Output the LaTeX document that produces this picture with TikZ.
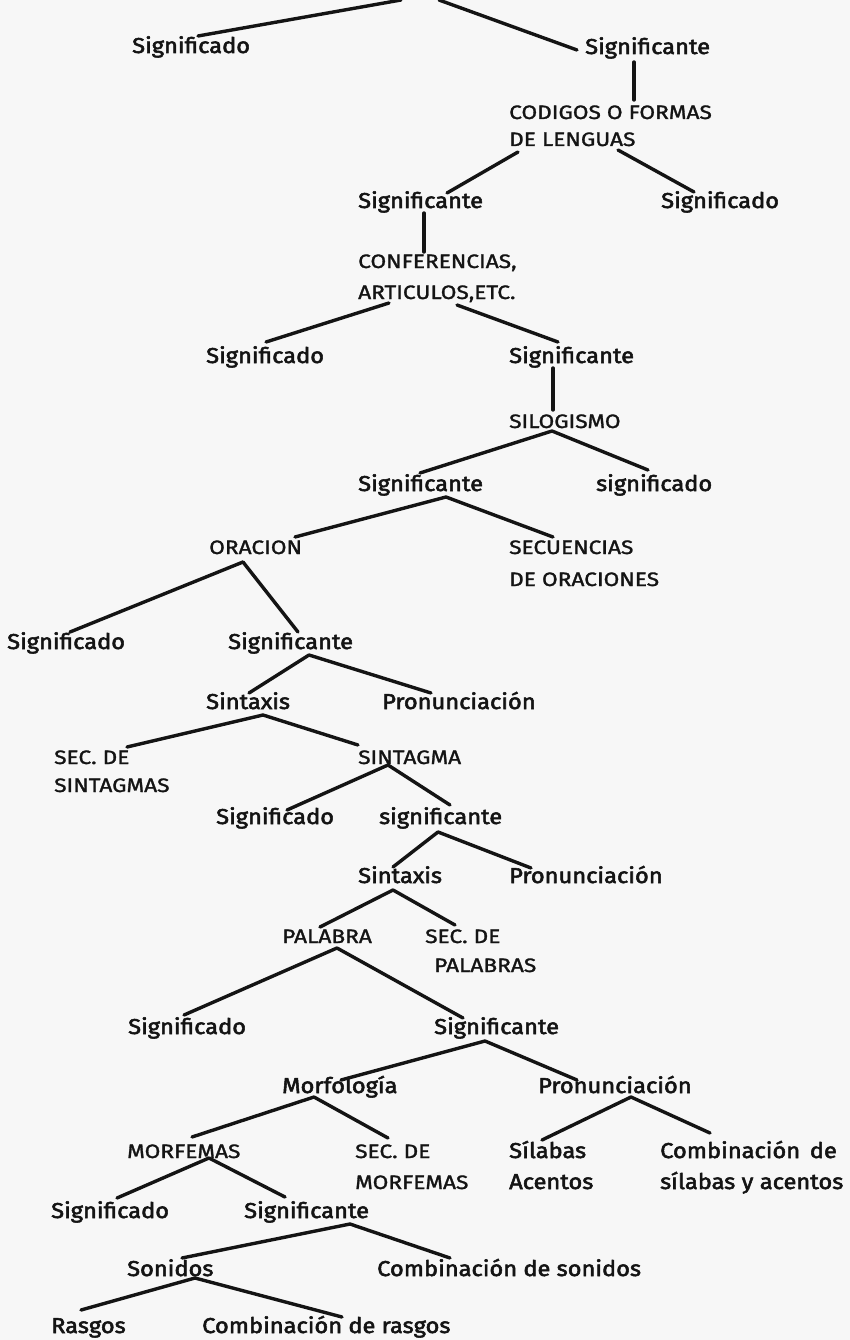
\documentclass[tikz,border=0pt]{standalone}
\usepackage{fontspec}
\setmainfont{Fira Sans}
\newfontfamily\wordfont{Fira Sans}[FakeStretch=1.1,FakeBold=2.5]
\newfontfamily\capsfont{Fira Sans}[FakeStretch=1.17,FakeBold=1.5]
\definecolor{ink}{HTML}{141414}
\definecolor{paper}{HTML}{F7F7F7}
\begin{document}
\begin{tikzpicture}[x=1pt,y=-1pt,
  lbl/.style={anchor=base west, inner sep=0pt, text=ink,
    font=\wordfont\fontsize{21.5}{24}\selectfont},
  caps/.style={lbl, font=\capsfont\fontsize{19.4}{22}\selectfont},
  conn/.style={draw=ink, line width=3.4pt, line cap=round}]
\fill[paper] (0,0) rectangle (850,1340);
\useasboundingbox (0,0) rectangle (850,1340);

% upper free ends of the first two branches
\coordinate (topL) at (401,0);
\coordinate (topR) at (439,0);

% labels, placed by their baseline start
\node[lbl]  (sdo1) at (132,53)  {Significado};
\node[lbl]  (ste1) at (585,54)  {Significante};
\node[caps] (cod)  at (509,119) {CODIGOS O FORMAS};
\node[caps] (cod2) at (509,146) {DE LENGUAS};
\node[lbl]  (ste2) at (358,208) {Significante};
\node[lbl]  (sdo2) at (661,208) {Significado};
\node[caps] (conf) at (358,268) {CONFERENCIAS,};
\node[caps] (conf2) at (358,299) {ARTICULOS,ETC.};
\node[lbl]  (sdo3) at (206,363) {Significado};
\node[lbl]  (ste3) at (509,363) {Significante};
\node[caps] (silo) at (509,428) {SILOGISMO};
\node[lbl]  (ste4) at (358,491) {Significante};
\node[lbl]  (sdo4) at (596,491) {significado};
\node[caps] (orac) at (209,554) {ORACION};
\node[caps] (secu) at (509,554) {SECUENCIAS};
\node[caps] (secu2) at (509,586) {DE ORACIONES};
\node[lbl]  (sdo5) at (7,649)   {Significado};
\node[lbl]  (ste5) at (228,649) {Significante};
\node[lbl]  (sin1) at (206,709) {Sintaxis};
\node[lbl]  (pro1) at (382,709) {Pronunciación};
\node[caps] (ssin) at (54,764)  {SEC. DE};
\node[caps] (ssin2) at (54,792) {SINTAGMAS};
\node[caps] (stg)  at (358,764) {SINTAGMA};
\node[lbl]  (sdo6) at (216,824) {Significado};
\node[lbl]  (ste6) at (379,824) {significante};
\node[lbl]  (sin2) at (358,883) {Sintaxis};
\node[lbl]  (pro2) at (509,883) {Pronunciación};
\node[caps] (pal)  at (282,943) {PALABRA};
\node[caps] (spal) at (425,943) {SEC. DE};
\node[caps] (spal2) at (434,972) {PALABRAS};
\node[lbl]  (sdo7) at (128,1034) {Significado};
\node[lbl]  (ste7) at (434,1034) {Significante};
\node[lbl]  (mor)  at (282,1093) {Morfología};
\node[lbl]  (pro3) at (538,1093) {Pronunciación};
\node[caps] (mfm)  at (127,1158) {MORFEMAS};
\node[caps] (smf)  at (355,1158) {SEC. DE};
\node[caps] (smf2) at (355,1189) {MORFEMAS};
\node[lbl]  (sil)  at (509,1158) {Sílabas};
\node[lbl]  (acen) at (509,1189) {Acentos};
\node[lbl]  (comb) at (660,1158) {Combinación\hspace{0.45em}de};
\node[lbl]  (comb2) at (660,1189) {sílabas\hspace{0.3em}y\hspace{0.3em}acentos};
\node[lbl]  (sdo8) at (51,1218)  {Significado};
\node[lbl]  (ste8) at (244,1218) {Significante};
\node[lbl]  (son)  at (127,1276) {Sonidos};
\node[lbl]  (cson) at (377,1276) {Combinación de sonidos};
\node[lbl]  (ras)  at (51,1333)  {Rasgos};
\node[lbl]  (cras) at (202,1333) {Combinación de rasgos};

% branches: parent point -> child point, offsets from each label's baseline start
\newcommand\branch[4]{\draw[conn] ([shift={(#2)}]#1.base west) -- ([shift={(#4)}]#3.base west);}
\draw[conn] (topL) -- ([shift={(66,-17)}]sdo1.base west);
\draw[conn] (topR) -- ([shift={(-8,-4)}]ste1.base west);
\branch{ste1}{49,8}{cod}{125,-19}
\branch{cod2}{9,6}{ste2}{89,-15}
\branch{cod2}{109,4}{sdo2}{33,-16}
\branch{ste2}{66,5}{conf}{66,-16}
\branch{conf2}{31,4}{sdo3}{60,-21}
\branch{conf2}{99,6}{ste3}{49,-21}
\branch{ste3}{44,5}{silo}{44,-18}
\branch{silo}{43,3}{ste4}{62,-18}
\branch{silo}{43,3}{sdo4}{52,-21}
\branch{ste4}{88,6}{orac}{86,-17}
\branch{ste4}{88,6}{secu}{44,-17}
\branch{orac}{34,8}{sdo5}{63,-17}
\branch{orac}{34,8}{ste5}{70,-17}
\branch{ste5}{81,6}{sin1}{43,-16}
\branch{ste5}{81,6}{pro1}{49,-16}
\branch{sin1}{57,6}{ssin}{73,-17}
\branch{sin1}{57,6}{stg}{0,-19}
\branch{stg}{30,1}{sdo6}{71,-14}
\branch{stg}{30,1}{ste6}{71,-19}
\branch{ste6}{59,8}{sin2}{35,-16}
\branch{ste6}{59,8}{pro2}{22,-15}
\branch{sin2}{35,7}{pal}{38,-16}
\branch{sin2}{35,7}{spal}{30,-18}
\branch{pal}{55,5}{sdo7}{56,-19}
\branch{pal}{55,5}{ste7}{29,-16}
\branch{ste7}{51,7}{mor}{59,-13}
\branch{ste7}{51,7}{pro3}{39,-13}
\branch{mor}{32,4}{mfm}{65,-21}
\branch{mor}{32,4}{smf}{33,-20}
\branch{pro3}{93,4}{sil}{33,-18}
\branch{pro3}{93,4}{comb}{50,-25}
\branch{mfm}{82,0}{sdo8}{66,-20}
\branch{mfm}{82,0}{ste8}{41,-21}
\branch{ste8}{106,6}{son}{55,-18}
\branch{ste8}{106,6}{cson}{73,-18}
\branch{son}{68,2}{ras}{30,-23}
\branch{son}{68,2}{cras}{140,-16}
\end{tikzpicture}
\end{document}
